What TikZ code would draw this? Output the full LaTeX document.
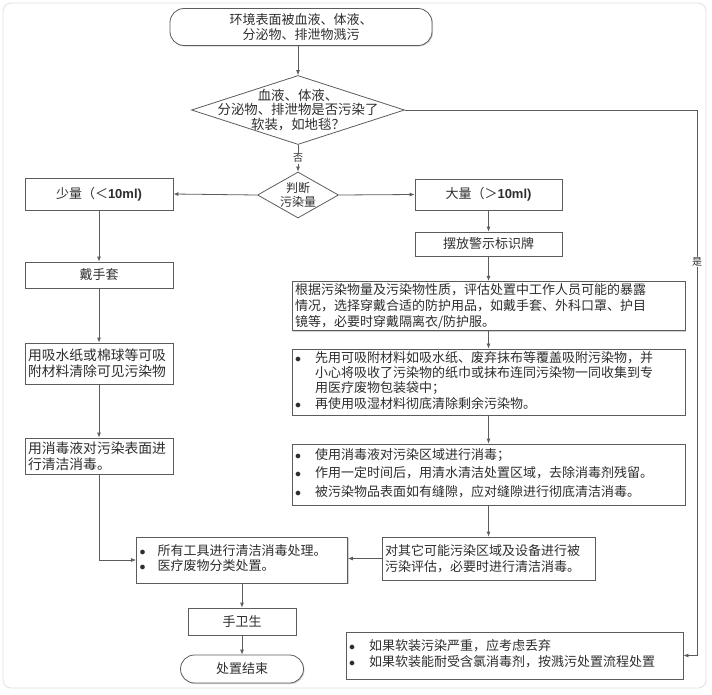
\documentclass[tikz,border=0pt]{standalone}
\usepackage{fontspec}
\setmainfont{Noto Sans CJK SC}
\newfontfamily\latinbold{Liberation Sans}
\usetikzlibrary{shapes.geometric,arrows.meta,shadows}
\setlength{\parindent}{0pt}
\newcommand{\bulletmark}{$\bullet$}
\definecolor{linegray}{HTML}{5C5C5C}
\definecolor{framegray}{HTML}{E0E0E0}
\definecolor{txtgray}{HTML}{2E2E2E}

\begin{document}
\begin{tikzpicture}[x=1pt, y=-1pt,
    font=\fontsize{13}{16}\selectfont, text=txtgray,
    box/.style={draw=linegray, line width=0.8pt, fill=white, inner xsep=3pt, inner ysep=2pt,
        drop shadow={shadow xshift=1pt, shadow yshift=-1pt, fill=black!35, opacity=0.5}},
    term/.style={box, rounded corners=14pt},
    choice/.style={diamond, draw=linegray, line width=0.8pt, fill=white, inner sep=0pt},
    arr/.style={draw=linegray, line width=0.8pt, -{Latex[length=5pt,width=4pt]}},
    lbl/.style={fill=white, inner sep=1pt, font=\fontsize{10}{11}\selectfont}]

    % Page and frame
    \useasboundingbox (0,0) rectangle (712,694);
    \draw[framegray, line width=0.8pt, rounded corners=8pt] (3,3) rectangle (706,688);

    % Start and the two decisions
    \node[term, minimum width=262, minimum height=37, align=center,
        font=\fontsize{13}{15}\selectfont] (start) at (301,27)
        {环境表面被血液、体液、\\分泌物、排泄物溅污};
    \node[choice, minimum width=213, minimum height=69] (check) at (298,110) {};
    \node[align=center, font=\fontsize{13.4}{14.5}\selectfont] (checktext) at (check)
        {血液、体液、\\分泌物、排泄物是否污染了\\软装，如地毯？};
    \node[choice, minimum width=81, minimum height=46] (judge) at (298,195) {};
    \node[align=center, font=\fontsize{12}{13.5}\selectfont] (judgetext) at (judge)
        {判断\\污染量};

    % Small amount (left column)
    \node[box, minimum width=148, minimum height=32] (small) at (99,194)
        {少量（＜{\latinbold\bfseries 10ml)}};
    \node[box, minimum width=148, minimum height=26] (gloves) at (99,275) {戴手套};
    \node[box, minimum width=148, minimum height=41, text width=142, align=left,
        font=\fontsize{13.8}{16}\selectfont] (wipe) at (99,363.5)
        {用吸水纸或棉球等可吸\\附材料清除可见污染物};
    \node[box, minimum width=148, minimum height=36, text width=142, align=left,
        font=\fontsize{13.8}{16}\selectfont] (clean) at (99,456)
        {用消毒液对污染表面进\\行清洁消毒。};

    % Large amount (right column)
    \node[box, minimum width=147, minimum height=31] (large) at (488.5,194.5)
        {大量（＞{\latinbold\bfseries 10ml)}};
    \node[box, minimum width=147, minimum height=24] (sign) at (488.5,244) {摆放警示标识牌};
    \node[box, minimum width=393, minimum height=48, text width=387, align=left] (ppe) at (488.5,306)
        {根据污染物量及污染物性质，评估处置中工作人员可能的暴露\\情况，选择穿戴合适的防护用品，如戴手套、外科口罩、护目\\镜等，必要时穿戴隔离衣/防护服。};
    \node[box, minimum width=393, minimum height=66, text width=387, align=left,
        font=\fontsize{13}{15}\selectfont] (absorb) at (488.5,382)
        {\begin{tabular}{@{}l@{\hspace{14pt}}l@{}}
        \bulletmark & 先用可吸附材料如吸水纸、废弃抹布等覆盖吸附污染物，并\\
         & 小心将吸收了污染物的纸巾或抹布连同污染物一同收集到专\\
         & 用医疗废物包装袋中；\\
        \bulletmark & 再使用吸湿材料彻底清除剩余污染物。
        \end{tabular}};
    \node[box, minimum width=393, minimum height=61, text width=387, align=left] (disinfect) at (488.5,474.5)
        {\begin{tabular}{@{}l@{\hspace{14pt}}l@{}}
        \bulletmark & 使用消毒液对污染区域进行消毒；\\[2.5pt]
        \bulletmark & 作用一定时间后，用清水清洁处置区域，去除消毒剂残留。\\[2.5pt]
        \bulletmark & 被污染物品表面如有缝隙，应对缝隙进行彻底清洁消毒。
        \end{tabular}};
    \node[box, minimum width=213, minimum height=43, text width=207, align=left] (assess) at (488.5,558.5)
        {对其它可能污染区域及设备进行被\\污染评估，必要时进行清洁消毒。};

    % Common end
    \node[box, minimum width=211, minimum height=46, text width=205, align=left,
        font=\fontsize{13}{15}\selectfont] (tools) at (242,560)
        {\begin{tabular}{@{}l@{\hspace{12pt}}l@{}}
        \bulletmark & 所有工具进行清洁消毒处理。\\
        \bulletmark & 医疗废物分类处置。
        \end{tabular}};
    \node[box, minimum width=108, minimum height=27] (hands) at (242,621.5) {手卫生};
    \node[term, minimum width=123, minimum height=28] (finish) at (242,669) {处置结束};

    % Soft furnishing branch
    \node[box, minimum width=337, minimum height=47, text width=331, align=left] (soft) at (514.5,655.5)
        {\begin{tabular}{@{}l@{\hspace{14pt}}l@{}}
        \bulletmark & 如果软装污染严重，应考虑丢弃\\
        \bulletmark & 如果软装能耐受含氯消毒剂，按溅污处置流程处置
        \end{tabular}};
    \coordinate (yesturn) at (697,655.5);

    % Connectors
    \draw[arr] (check.north |- start.south) -- (check.north);
    \draw[arr] (check.south) -- node[lbl] (nolbl) {否} (judge.north);
    \draw[arr] (judge.west) -- (small.east);
    \draw[arr] (judge.east) -- (large.west);
    \draw[arr] (small) -- (gloves);
    \draw[arr] (gloves) -- (wipe);
    \draw[arr] (wipe) -- (clean);
    \draw[arr] (clean.south) |- (tools.west);
    \draw[arr] (large) -- (sign);
    \draw[arr] (sign) -- (ppe);
    \draw[arr] (ppe) -- (absorb);
    \draw[arr] (absorb) -- (disinfect);
    \draw[arr] (disinfect) -- (assess);
    \draw[arr] (assess.west) -- (assess.west -| tools.east);
    \draw[arr] (tools) -- (hands);
    \draw[arr] (hands) -- (finish);
    \draw[arr] (check.east) -| (yesturn) -- (soft.east);
    \node[lbl] (yeslbl) at (697,262) {是};

\end{tikzpicture}
\end{document}
